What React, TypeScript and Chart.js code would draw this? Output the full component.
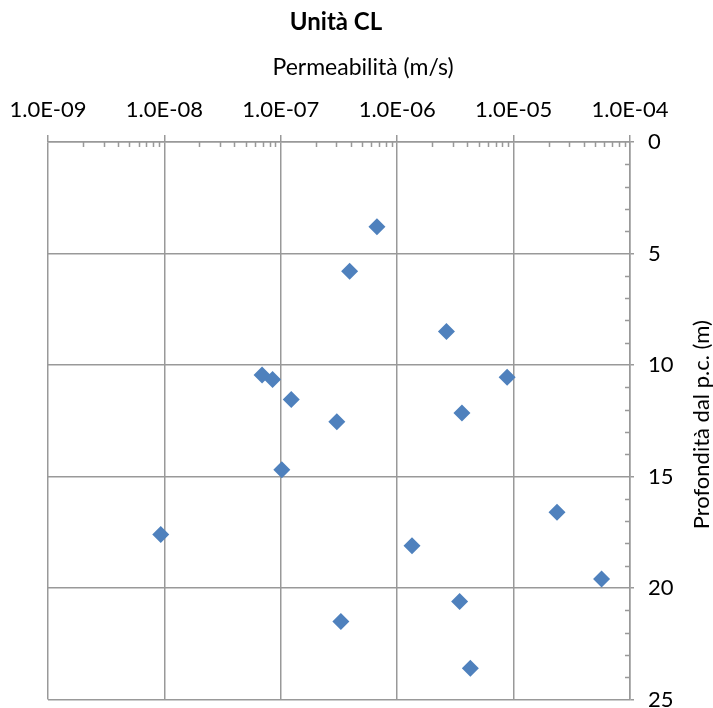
import React, { useEffect, useRef } from "react";
import { Chart, registerables } from "chart.js";

Chart.register(...registerables);

const chartTitle = "Unità CL";
const xAxisTitle = "Permeabilità (m/s)";
const yAxisTitle = "Profondità dal p.c. (m)";

const permeability = [
  6.7e-7, 3.9e-7, 2.65e-6, 6.9e-8, 8.5e-8, 8.8e-6, 1.23e-7, 3.6e-6, 3.03e-7,
  1.02e-7, 2.36e-5, 9.3e-9, 1.34e-6, 5.7e-5, 3.44e-6, 3.28e-7, 4.25e-6,
];
const depth = [
  3.8, 5.8, 8.5, 10.45, 10.65, 10.55, 11.55, 12.15, 12.55, 14.7, 16.6, 17.6,
  18.1, 19.6, 20.6, 21.5, 23.6,
];

const xTickValues = [1e-9, 1e-8, 1e-7, 1e-6, 1e-5, 1e-4];
const xTickLabels = ["1.0E-09", "1.0E-08", "1.0E-07", "1.0E-06", "1.0E-05", "1.0E-04"];
const yTickValues = [0, 5, 10, 15, 20, 25];
const yTickLabels = ["0", "5", "10", "15", "20", "25"];

const FONT = "Lato, 'Open Sans', sans-serif";
const GRID = "#999999";
const POINT = "#4F81BD";

const extras = {
  id: "extras",
  beforeDatasetsDraw(chart: any) {
    const { ctx, chartArea, scales } = chart;
    const x = scales.x;
    const y = scales.y;
    ctx.save();
    ctx.strokeStyle = GRID;
    ctx.lineWidth = 1.5;
    ctx.beginPath();
    for (let d = 0; d < xTickValues.length - 1; d++) {
      for (let k = 2; k <= 9; k++) {
        const px = Math.round(x.getPixelForValue(k * xTickValues[d])) + 0.5;
        ctx.moveTo(px, chartArea.top);
        ctx.lineTo(px, chartArea.top + 5);
      }
    }
    for (let v = 1; v < 25; v++) {
      if (v % 5 === 0) continue;
      const py = Math.round(y.getPixelForValue(v)) + 0.5;
      ctx.moveTo(chartArea.right - 5, py);
      ctx.lineTo(chartArea.right, py);
    }
    ctx.stroke();
    ctx.restore();
  },
  afterDraw(chart: any) {
    const { ctx, chartArea } = chart;
    const cx = (chartArea.left + chartArea.right) / 2;
    const cy = (chartArea.top + chartArea.bottom) / 2;
    ctx.save();
    ctx.fillStyle = "#000";
    ctx.textAlign = "center";
    ctx.textBaseline = "middle";
    ctx.font = `bold 24px ${FONT}`;
    ctx.fillText(chartTitle, cx - 3, 22);
    ctx.font = `23px ${FONT}`;
    ctx.fillText(xAxisTitle, cx + 24, 68);
    ctx.font = `22px ${FONT}`;
    ctx.translate(chart.width - 11, cy + 4);
    ctx.rotate(-Math.PI / 2);
    ctx.fillText(yAxisTitle, 0, 0);
    ctx.restore();
  },
};

export default function App() {
  const ref = useRef<HTMLCanvasElement>(null);
  useEffect(() => {
    if (!ref.current) return;
    const chart = new Chart(ref.current, {
      type: "scatter",
      data: {
        datasets: [
          {
            label: "Permeabilità",
            data: permeability.map((k, i) => ({ x: k, y: depth[i] })),
            pointStyle: "rectRot",
            pointRadius: 8.5,
            pointHoverRadius: 8.5,
            backgroundColor: POINT,
            borderColor: POINT,
            borderWidth: 0,
          },
        ],
      },
      options: {
        animation: false,
        responsive: true,
        maintainAspectRatio: false,
        layout: { padding: { left: 48, right: 0, top: 0, bottom: 8 } },
        plugins: {
          legend: { display: false },
          tooltip: { enabled: false },
          title: { display: false },
        },
        scales: {
          x: {
            type: "logarithmic",
            position: "top",
            min: 1e-9,
            max: 1e-4,
            afterBuildTicks: (scale: any) => {
              scale.ticks = xTickValues.map((v) => ({ value: v }));
            },
            afterFit: (scale: any) => {
              scale.height = 142;
              scale.paddingLeft = 0;
              scale.paddingRight = 0;
            },
            ticks: {
              color: "#000",
              font: { family: FONT, size: 22 },
              padding: 12,
              maxRotation: 0,
              autoSkip: false,
              callback: (_v: any, i: number) => xTickLabels[i],
            },
            grid: { color: GRID, lineWidth: 1.5, tickLength: 7 },
            border: { color: GRID, width: 1.5 },
            title: { display: false },
          },
          y: {
            type: "linear",
            position: "right",
            reverse: true,
            min: 0,
            max: 25,
            afterBuildTicks: (scale: any) => {
              scale.ticks = yTickValues.map((v) => ({ value: v }));
            },
            afterFit: (scale: any) => {
              scale.width = 83;
              scale.paddingTop = 0;
              scale.paddingBottom = 0;
            },
            ticks: {
              color: "#000",
              font: { family: FONT, size: 22 },
              padding: 14,
              callback: (_v: any, i: number) => yTickLabels[i],
            },
            grid: { color: GRID, lineWidth: 1.5, tickLength: 4 },
            border: { color: GRID, width: 1.5 },
          },
        },
      },
      plugins: [extras],
    });
    return () => chart.destroy();
  }, []);
  return (
    <div style={{ position: "absolute", left: 0, top: 0, width: 713, height: 708, background: "#fff" }}>
      <canvas ref={ref} style={{ display: "block" }} />
    </div>
  );
}
